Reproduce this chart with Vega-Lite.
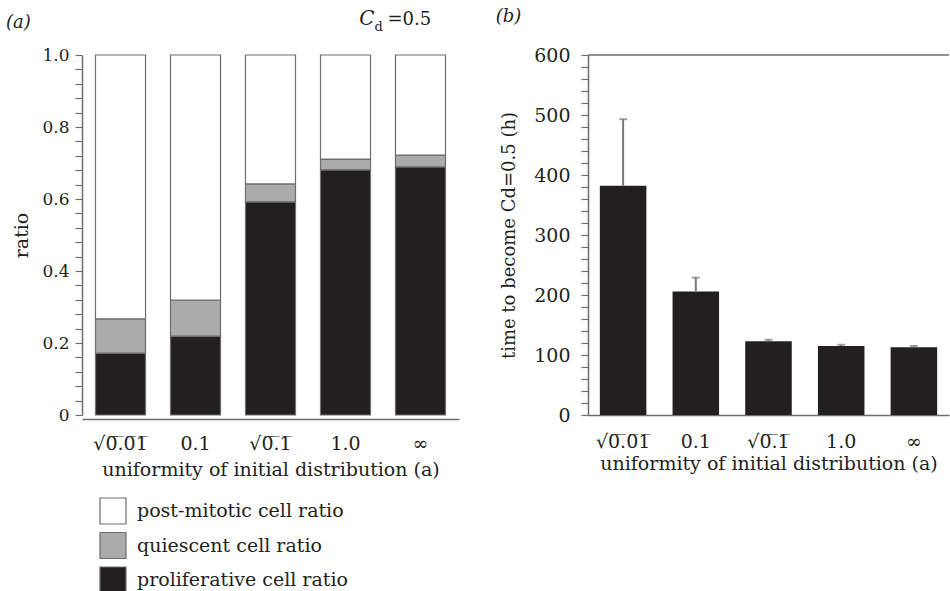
{
  "$schema": "https://vega.github.io/schema/vega-lite/v6.json",
  "background": "white",
  "padding": {"left": 5, "top": 8, "right": 0, "bottom": 0},
  "spacing": 36,
  "config": {
    "font": "DejaVu Serif",
    "view": {"stroke": null},
    "axis": {
      "labelFont": "DejaVu Serif", "titleFont": "DejaVu Serif",
      "labelFontSize": 17, "titleFontSize": 19, "titleFontWeight": "normal",
      "labelColor": "#231f20", "titleColor": "#231f20",
      "domainColor": "#6d6d6d", "tickColor": "#6d6d6d", "domainWidth": 1.5, "tickWidth": 1.2,
      "grid": false, "labelOverlap": false, "labelBound": false
    },
    "title": {"font": "DejaVu Serif", "fontSize": 18, "fontWeight": "normal", "fontStyle": "italic", "color": "#231f20", "anchor": "start", "frame": "bounds"},
    "legend": {
      "labelFont": "DejaVu Serif", "labelFontSize": 19, "labelColor": "#231f20", "labelLimit": 400,
      "symbolType": "square", "symbolSize": 676, "symbolStrokeColor": "#6d6d6d", "symbolStrokeWidth": 1.2,
      "rowPadding": 2.5, "labelOffset": 10, "symbolOpacity": 1
    }
  },
  "hconcat": [
    {
      "width": 377, "height": 360,
      "title": {"text": "(a)", "offset": -23, "dx": -7},
      "layer": [
        {
          "data": {"values": [
            {"a": "√0.01", "type": "proliferative cell ratio", "ord": 1, "ratio": 0.172},
            {"a": "√0.01", "type": "quiescent cell ratio", "ord": 2, "ratio": 0.095},
            {"a": "√0.01", "type": "post-mitotic cell ratio", "ord": 3, "ratio": 0.733},
            {"a": "0.1", "type": "proliferative cell ratio", "ord": 1, "ratio": 0.219},
            {"a": "0.1", "type": "quiescent cell ratio", "ord": 2, "ratio": 0.100},
            {"a": "0.1", "type": "post-mitotic cell ratio", "ord": 3, "ratio": 0.681},
            {"a": "√0.1", "type": "proliferative cell ratio", "ord": 1, "ratio": 0.592},
            {"a": "√0.1", "type": "quiescent cell ratio", "ord": 2, "ratio": 0.050},
            {"a": "√0.1", "type": "post-mitotic cell ratio", "ord": 3, "ratio": 0.358},
            {"a": "1.0", "type": "proliferative cell ratio", "ord": 1, "ratio": 0.681},
            {"a": "1.0", "type": "quiescent cell ratio", "ord": 2, "ratio": 0.030},
            {"a": "1.0", "type": "post-mitotic cell ratio", "ord": 3, "ratio": 0.289},
            {"a": "∞", "type": "proliferative cell ratio", "ord": 1, "ratio": 0.689},
            {"a": "∞", "type": "quiescent cell ratio", "ord": 2, "ratio": 0.033},
            {"a": "∞", "type": "post-mitotic cell ratio", "ord": 3, "ratio": 0.278}
          ]},
          "mark": {"type": "bar", "stroke": "#6d6d6d", "strokeWidth": 1.2},
          "encoding": {
            "x": {"field": "a", "type": "nominal", "sort": ["√0.01", "0.1", "√0.1", "1.0", "∞"],
                  "scale": {"paddingInner": 0.333, "paddingOuter": 0.18},
                  "axis": {"title": "uniformity of initial distribution (a)", "labelAngle": 0, "ticks": false, "offset": 4, "labelPadding": 15, "titlePadding": 7, "labelFontSize": 19, "labelOverlap": false,
                           "labelExpr": "datum.label == '√0.01' ? '√0̅.̅0̅1̅' : datum.label == '√0.1' ? '√0̅.̅1̅' : datum.label"}},
            "y": {"field": "ratio", "type": "quantitative", "stack": "zero",
                  "scale": {"domain": [0, 1], "nice": false},
                  "axis": {"title": "ratio", "tickSize": 7, "labelPadding": 6, "titlePadding": 10, "labelOverlap": false, "tickCount": 100,
                           "values": [0, 0.04, 0.08, 0.12, 0.16, 0.2, 0.24, 0.28, 0.32, 0.36, 0.4, 0.44, 0.48, 0.52, 0.56, 0.6, 0.64, 0.68, 0.72, 0.76, 0.8, 0.84, 0.88, 0.92, 0.96, 1.0],
                           "labelExpr": "abs(datum.value*5 - round(datum.value*5)) < 0.001 ? (datum.value == 0 ? '0' : format(datum.value, '.1f')) : ''"}},
            "color": {"field": "type", "type": "nominal",
                      "scale": {"domain": ["post-mitotic cell ratio", "quiescent cell ratio", "proliferative cell ratio"], "range": ["#ffffff", "#ababab", "#231f20"]},
                      "legend": {"title": null, "orient": "none", "legendX": 17, "legendY": 442}},
            "order": {"field": "ord", "type": "quantitative"}
          }
        },
        {
          "data": {"values": [{"t": "C"}]},
          "mark": {"type": "text", "align": "right", "baseline": "alphabetic", "fontStyle": "italic", "fontSize": 20, "dx": -46, "color": "#231f20"},
          "encoding": {"x": {"datum": "∞"}, "y": {"datum": 1.083}, "text": {"field": "t"}}
        },
        {
          "data": {"values": [{"t": "d"}]},
          "mark": {"type": "text", "align": "left", "baseline": "alphabetic", "fontSize": 13, "dx": -46, "dy": 6, "color": "#231f20"},
          "encoding": {"x": {"datum": "∞"}, "y": {"datum": 1.083}, "text": {"field": "t"}}
        },
        {
          "data": {"values": [{"t": "=0.5"}]},
          "mark": {"type": "text", "align": "left", "baseline": "alphabetic", "fontSize": 18, "dx": -33, "color": "#231f20"},
          "encoding": {"x": {"datum": "∞"}, "y": {"datum": 1.083}, "text": {"field": "t"}}
        }
      ]
    },
    {
      "width": 361, "height": 360,
      "title": {"text": "(b)", "offset": 20, "dx": -5},
      "data": {"values": [
        {"a": "√0.01", "t": 382, "err": 493},
        {"a": "0.1", "t": 206, "err": 229},
        {"a": "√0.1", "t": 123, "err": 125.5},
        {"a": "1.0", "t": 115, "err": 117},
        {"a": "∞", "t": 113, "err": 115}
      ]},
      "encoding": {
        "x": {"field": "a", "type": "nominal", "sort": ["√0.01", "0.1", "√0.1", "1.0", "∞"],
              "scale": {"paddingInner": 0.36, "paddingOuter": 0.163},
              "axis": {"title": "uniformity of initial distribution (a)", "labelAngle": 0, "ticks": false, "labelPadding": 17, "titlePadding": 3, "labelFontSize": 19, "labelOverlap": false,
                       "labelExpr": "datum.label == '√0.01' ? '√0̅.̅0̅1̅' : datum.label == '√0.1' ? '√0̅.̅1̅' : datum.label"}}
      },
      "layer": [
        {
          "data": {"values": [{"top": 600}]},
          "mark": {"type": "rule", "color": "#6d6d6d", "strokeWidth": 1.5},
          "encoding": {"x": null, "y": {"field": "top", "type": "quantitative"}}
        },
        {
          "mark": {"type": "bar", "color": "#231f20"},
          "encoding": {
            "y": {"field": "t", "type": "quantitative",
                  "scale": {"domain": [0, 600], "nice": false},
                  "axis": {"title": "time to become Cd=0.5 (h)", "titleFontSize": 18, "labelFontSize": 19, "tickSize": 7, "labelPadding": 11, "titlePadding": 15, "labelOverlap": false, "tickCount": 100,
                           "values": [0, 20, 40, 60, 80, 100, 120, 140, 160, 180, 200, 220, 240, 260, 280, 300, 320, 340, 360, 380, 400, 420, 440, 460, 480, 500, 520, 540, 560, 580, 600],
                           "labelExpr": "datum.value % 100 == 0 ? datum.label : ''"}}
          }
        },
        {
          "mark": {"type": "rule", "color": "#7a7a7a", "strokeWidth": 2},
          "encoding": {"y": {"field": "t", "type": "quantitative"}, "y2": {"field": "err"}}
        },
        {
          "mark": {"type": "tick", "color": "#7a7a7a", "size": 8, "thickness": 2},
          "encoding": {"y": {"field": "err", "type": "quantitative"}}
        }
      ]
    }
  ]
}
